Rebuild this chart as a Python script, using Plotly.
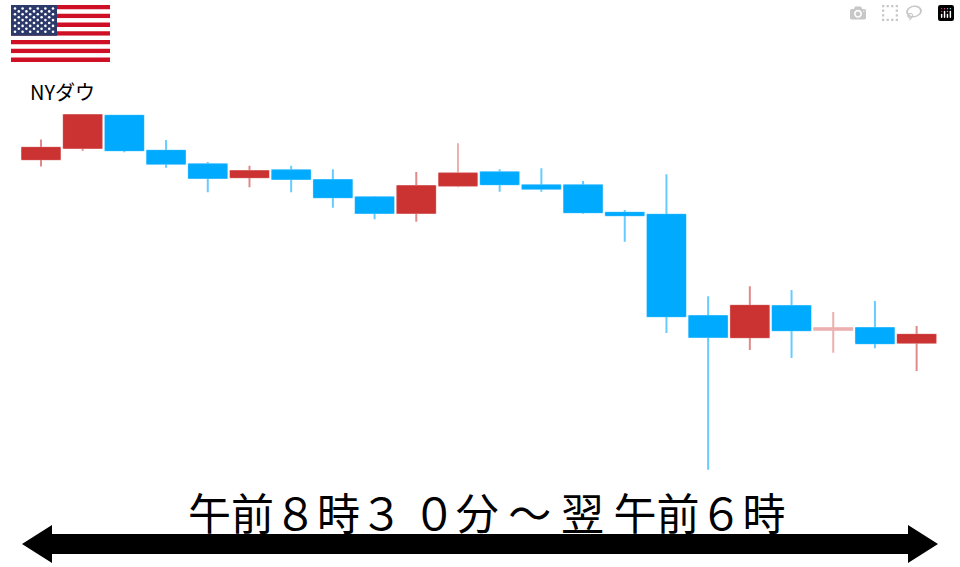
import plotly.graph_objects as go

# values, the price scale is arbitrary (1 unit = 1 px)
candle_no = list(range(22))
opens = [407.7, 419, 451.3, 416.3, 402.7, 389.7, 396.7, 387, 369.7, 354, 381.3,
         394.7, 381.7, 381.7, 354.3, 352.3, 251, 229.7, 261, 237.3, 239, 224.3]
highs = [427.5, 452, 451.3, 427, 405, 401.3, 401.3, 397.7, 371, 395, 423.7,
         397.7, 398.7, 386, 357, 392.7, 270.7, 280.7, 277, 255, 266, 241]
lows = [400.5, 416.3, 414.7, 399.3, 374.7, 379.7, 374.7, 359.3, 347.7, 345.3, 379.7,
        375.3, 375.3, 353.3, 325.3, 234, 97.3, 217, 209, 214.3, 218.7, 196]
closes = [419.3, 452, 416.7, 403.3, 389, 396, 388, 369.7, 354, 381, 393.7,
          382.7, 378.3, 354.7, 351.7, 250.7, 230, 261.3, 236.7, 238.7, 223.7, 232.3]

label_title = "NYダウ"
label_span = "午前８時３ ０分 ～ 翌 午前６時"

RED = "#CB3232"
BLUE = "#00AAFF"
PALE_RED = "#E08A8A"
FAINT_RED = "#EDB0B0"
PALE_BLUE = "#66CCFF"

# paler wicks and the one washed out doji body
faint_wick = [10, 19]
faint_body = [19]


def add_candles(idx, color, line_width, wick):
    # wick=True draws high-low only, wick=False draws just the open-close box
    style = dict(fillcolor=color, line=dict(color=color, width=line_width))
    fig.add_trace(go.Candlestick(
        x=idx,
        open=[opens[i] for i in idx],
        high=[highs[i] if wick else max(opens[i], closes[i]) for i in idx],
        low=[lows[i] if wick else min(opens[i], closes[i]) for i in idx],
        close=[closes[i] for i in idx],
        increasing=style,
        decreasing=style,
        whiskerwidth=0,
        hoverinfo="skip",
        showlegend=False,
    ))


fig = go.Figure()

ups = [i for i in candle_no if closes[i] >= opens[i]]
downs = [i for i in candle_no if closes[i] < opens[i]]

# wicks first, the solid bodies go on top of them
add_candles([i for i in ups if i not in faint_wick], PALE_RED, 2, True)
add_candles([i for i in ups if i in faint_wick], FAINT_RED, 2, True)
add_candles(downs, PALE_BLUE, 2, True)
add_candles([i for i in ups if i not in faint_body], RED, 1, False)
add_candles([i for i in ups if i in faint_body], FAINT_RED, 1, False)
add_candles(downs, BLUE, 1, False)

# flag stars, on a hidden overlay axis in page pixels
star_x, star_y = [], []
for row in range(9):
    n = 6 if row % 2 == 0 else 5
    for col in range(n):
        star_x.append(15 + col * 7.6 + (0 if row % 2 == 0 else 3.8))
        star_y.append(8.5 + row * 2.9)
fig.add_trace(go.Scatter(
    x=star_x, y=star_y, xaxis="x2", yaxis="y2", mode="markers",
    marker=dict(symbol="circle", size=2.6, color="white"),
    hoverinfo="skip", showlegend=False,
))

shapes = []
# flag stripes and canton
flag_x0, flag_x1, flag_y0, flag_y1 = 11, 110, 5, 62
stripe_h = (flag_y1 - flag_y0) / 13
for s in range(13):
    shapes.append(dict(
        type="rect", xref="x2", yref="y2", layer="below", line_width=0,
        x0=flag_x0, x1=flag_x1,
        y0=flag_y0 + s * stripe_h, y1=flag_y0 + (s + 1) * stripe_h,
        fillcolor="#CE0F25" if s % 2 == 0 else "#FFFFFF",
    ))
shapes.append(dict(
    type="rect", xref="x2", yref="y2", layer="below", line_width=0,
    x0=flag_x0, x1=57, y0=flag_y0, y1=flag_y0 + 7 * stripe_h, fillcolor="#2B3A6B",
))
# double headed arrow
shapes.append(dict(
    type="path", xref="x2", yref="y2", fillcolor="black", line_width=0,
    path="M 22 544 L 52 525 L 52 534 L 908 534 L 908 525 L 938 544 "
         "L 908 563 L 908 554 L 52 554 L 52 563 Z",
))

fig.update_layout(
    width=960,
    height=567,
    margin=dict(l=0, r=0, t=0, b=0),
    paper_bgcolor="white",
    plot_bgcolor="white",
    boxmode="overlay",
    boxgap=0.09,
    boxgroupgap=0,
    showlegend=False,
    xaxis=dict(range=[-0.983, 22.04], visible=False, rangeslider=dict(visible=False),
               fixedrange=True),
    yaxis=dict(range=[0, 567], visible=False, fixedrange=True),
    xaxis2=dict(range=[0, 960], visible=False, overlaying="x", fixedrange=True),
    yaxis2=dict(range=[567, 0], visible=False, overlaying="y", fixedrange=True),
    shapes=shapes,
    annotations=[
        dict(text=label_title, xref="x2", yref="y2", x=62.5, y=91, showarrow=False,
             font=dict(family="Noto Sans CJK JP", size=20, color="black")),
        dict(text=label_span, xref="x2", yref="y2", x=487, y=511, showarrow=False,
             font=dict(family="Noto Sans CJK JP", size=43, color="black")),
    ],
)

# drop the default body margin so the figure sits at the page corner
fig.write_html("out.html", post_script="document.body.style.margin = '0';")
